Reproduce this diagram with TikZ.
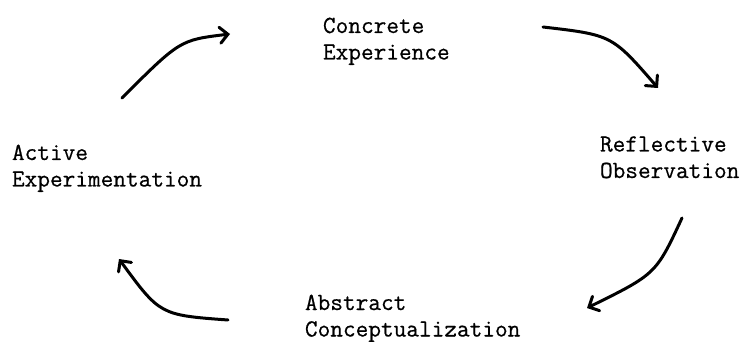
\documentclass[tikz,border=0pt]{standalone}
\usepackage{fontspec}
\setmonofont{Latin Modern Mono}[FakeBold=0.6]
\usetikzlibrary{arrows.meta}
\begin{document}
\begin{tikzpicture}[x=1pt,y=-1pt,
  lbl/.style={anchor=base west,inner sep=0pt,outer sep=0pt,font=\ttfamily\fontsize{24.6}{26.5}\selectfont},
  cyc/.style={line width=3pt,line cap=round,-{Straight Barb[length=8pt,width=16pt,line cap=round]}}]
\useasboundingbox (0,0) rectangle (745,342);
\node[lbl] (ce) at (323,33) {\begin{tabular}[t]{@{}l@{}}Concrete\\Experience\end{tabular}};
\node[lbl] (ro) at (600,151.5) {\begin{tabular}[t]{@{}l@{}}Reflective\\Observation\end{tabular}};
\node[lbl] (ac) at (305,310) {\begin{tabular}[t]{@{}l@{}}Abstract\\Conceptualization\end{tabular}};
\node[lbl] (ae) at (12,160) {\begin{tabular}[t]{@{}l@{}}Active\\Experimentation\end{tabular}};
\coordinate (a1s) at (122,98);  \coordinate (a1e) at (230,34);
\coordinate (a2s) at (543,27);  \coordinate (a2e) at (658,88);
\coordinate (a3s) at (682,218); \coordinate (a3e) at (587,308);
\coordinate (a4s) at (228,320); \coordinate (a4e) at (119,259);
\draw[cyc] (a1s) .. controls (180,40) .. (a1e);
\draw[cyc] (a2s) .. controls (612,35) .. (a2e);
\draw[cyc] (a3s) .. controls (656,274) .. (a3e);
\draw[cyc] (a4s) .. controls (160,315) .. (a4e);
\end{tikzpicture}
\end{document}
